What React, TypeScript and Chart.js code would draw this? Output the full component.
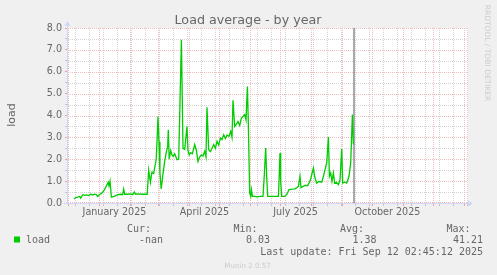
import { useEffect, useRef } from "react";
import { Chart, registerables } from "chart.js";

Chart.register(...registerables);

// x values are days counted from 1 December 2024
const loadDays = [
  6.2, 7.7, 9.7, 11.7, 12.7, 14.7, 16.7, 18.7, 20.7, 22.7, 24.7, 26.7, 28.2, 29.7, 31.7, 33.2, 34.7, 36.4, 37.7, 39.0,
  40.2, 41.0, 42.0, 43.4, 45.7, 48.0, 49.7, 52.7, 54.7, 55.7, 56.7, 59.7, 62.7, 64.7, 66.4, 67.7, 70.7, 73.7, 76.7, 79.2,
  80.7, 82.4, 84.0, 85.7, 88.2, 89.2, 90.0, 91.0, 91.9, 93.2, 95.2, 96.7, 98.2, 99.7, 100.3, 101.2, 102.7, 104.0, 105.2, 106.7,
  109.0, 110.7, 113.4, 115.0, 116.7, 119.0, 120.0, 121.2, 122.7, 124.4, 126.7, 128.4, 130.0, 131.7, 133.4, 135.0, 136.7, 138.0, 139.0, 140.7,
  142.4, 144.0, 145.7, 147.4, 149.0, 150.7, 152.4, 154.0, 155.7, 157.4, 159.0, 161.0, 162.7, 164.0, 165.0, 166.7, 168.4, 170.0, 171.7, 173.4,
  175.0, 176.7, 178.0, 179.4, 180.2, 181.7, 182.7, 183.4, 184.4, 186.7, 189.7, 191.7, 195.0, 196.2, 197.7, 198.7, 199.7, 203.7, 207.7, 210.4,
  211.2, 212.0, 212.7, 213.7, 216.7, 218.7, 221.0, 222.7, 224.7, 227.0, 228.7, 230.4, 232.0, 233.0, 234.7, 237.0, 239.7, 242.0, 243.7, 245.4,
  246.7, 248.7, 250.7, 253.7, 255.4, 257.0, 258.7, 260.4, 261.4, 262.7, 264.0, 265.4, 266.7, 268.4, 270.4, 272.0, 273.7, 274.7, 276.7, 278.7,
  281.0, 282.7, 284.4, 285.4,
];
const loadValues = [
  0.18, 0.25, 0.27, 0.3, 0.22, 0.38, 0.35, 0.37, 0.34, 0.41, 0.36, 0.4, 0.38, 0.3, 0.4, 0.43, 0.5, 0.6, 0.72, 0.84,
  0.95, 0.78, 1.0, 0.27, 0.3, 0.34, 0.38, 0.4, 0.38, 0.64, 0.4, 0.4, 0.42, 0.38, 0.5, 0.4, 0.42, 0.4, 0.41, 0.4,
  1.5, 0.95, 1.42, 1.35, 2.0, 3.0, 3.95, 2.8, 1.4, 0.64, 1.4, 1.9, 2.3, 2.6, 3.35, 2.0, 2.4, 2.2, 2.13, 2.25,
  1.98, 2.0, 7.46, 2.5, 2.45, 3.5, 2.4, 2.2, 2.3, 2.25, 2.67, 2.4, 1.9, 2.1, 2.2, 2.15, 2.36, 2.1, 4.38, 2.44,
  2.35, 2.5, 2.67, 2.5, 2.82, 2.65, 2.97, 2.9, 3.12, 2.95, 3.1, 3.05, 3.27, 3.0, 4.7, 3.5, 3.6, 3.73, 3.55, 3.88,
  3.95, 4.04, 3.8, 5.33, 3.9, 0.46, 0.3, 0.61, 0.3, 0.3, 0.28, 0.3, 0.3, 1.2, 2.51, 1.2, 0.3, 0.3, 0.3, 0.3,
  1.2, 2.29, 1.0, 0.3, 0.3, 0.38, 0.61, 0.62, 0.63, 0.65, 0.7, 0.76, 1.22, 0.7, 0.75, 0.8, 0.8, 0.99, 1.29, 1.6,
  1.2, 0.91, 0.98, 0.95, 1.22, 1.52, 1.83, 3.02, 1.22, 1.37, 0.99, 1.37, 0.91, 0.95, 0.84, 1.05, 2.47, 0.91, 0.95, 0.91,
  1.22, 1.83, 4.04, 2.67,
];
const markerDay = 286.0;

const monthStartDays = [0, 31, 62, 90, 121, 151, 182, 212, 243, 274, 304, 335, 365, 396];
const minorGridDays = [
  7, 21, 35, 49, 63, 77, 91, 105, 119, 133, 147, 161, 175, 189, 203, 217, 231, 245, 259, 273, 287, 301, 315, 329, 343, 357,
  371, 385, 399,
];
const xLabelDays = [46.5, 136.5, 227.5, 319.5];
const xLabelTexts = ["January 2025", "April 2025", "July 2025", "October 2025"];
const yTickValues = [0, 0.5, 1, 1.5, 2, 2.5, 3, 3.5, 4, 4.5, 5, 5.5, 6, 6.5, 7, 7.5, 8];

const titleText = "Load average - by year";
const yTitleText = "load";
const seriesName = "load";
const legendHeads = ["Cur:", "Min:", "Avg:", "Max:"];
const legendValues = ["-nan", "0.03", "1.38", "41.21"];
const lastUpdateText = "Last update: Fri Sep 12 02:45:12 2025";
const versionText = "Munin 2.0.57";
const watermarkText = "RRDTOOL / TOBI OETIKER";

const MAJOR = "#f1baba";
const MINOR = "#d3d3d3";
const MAJOR_TICK = "#eba0a0";
const MINOR_TICK = "#c4c4c4";
const AXIS = "#cfd6f8";
const TEXT = "#666666";
const GREEN = "#00cc00";

function tickKind(v: number): string {
  if (monthStartDays.includes(v)) return "major";
  if (minorGridDays.includes(v)) return "minor";
  return "label";
}

export default function App() {
  const ref = useRef<HTMLCanvasElement | null>(null);

  useEffect(() => {
    document.body.style.margin = "0";
    document.body.style.background = "#f0f0f0";
    const canvas = ref.current;
    if (!canvas) return;

    const decor = {
      id: "decor",
      beforeDraw(chart: any) {
        const { ctx, chartArea: a } = chart;
        ctx.save();
        ctx.fillStyle = "#f0f0f0";
        ctx.fillRect(0, 0, chart.width, chart.height);
        ctx.fillStyle = "#ffffff";
        ctx.fillRect(a.left, a.top, a.right - a.left, a.bottom - a.top);
        ctx.restore();
      },
      beforeDatasetsDraw(chart: any) {
        // dotted grid (1 on / 1 off), positioned by the chart's own scales
        const { ctx, chartArea: a, scales } = chart;
        const xs = scales.x;
        const ys = scales.y;
        const l = Math.round(a.left);
        const r = Math.round(a.right);
        const t = Math.round(a.top);
        const b = Math.round(a.bottom);
        ctx.save();
        for (const pass of ["minor", "major"]) {
          ctx.fillStyle = pass === "major" ? MAJOR : MINOR;
          for (const tk of ys.ticks) {
            const kind = Number.isInteger(tk.value) ? "major" : "minor";
            if (kind !== pass) continue;
            const py = Math.min(b - 1, Math.round(ys.getPixelForValue(tk.value)));
            for (let px = l; px < r; px += 2) ctx.fillRect(px, py, 1, 1);
          }
          for (const tk of xs.ticks) {
            if (tickKind(tk.value) !== pass) continue;
            const px = Math.round(xs.getPixelForValue(tk.value));
            for (let py = t; py < b; py += 2) ctx.fillRect(px, py, 1, 1);
          }
        }
        ctx.restore();
      },
      afterDraw(chart: any) {
        const { ctx, chartArea: a } = chart;
        ctx.save();
        // axes
        ctx.strokeStyle = AXIS;
        ctx.lineWidth = 1;
        ctx.beginPath();
        ctx.moveTo(a.left - 0.5, a.bottom + 0.5);
        ctx.lineTo(a.left - 0.5, a.top - 3);
        ctx.moveTo(a.left - 4, a.bottom + 0.5);
        ctx.lineTo(a.right + 2, a.bottom + 0.5);
        ctx.stroke();
        ctx.fillStyle = AXIS;
        ctx.beginPath();
        ctx.moveTo(a.left - 3.5, a.top - 2);
        ctx.lineTo(a.left + 2.5, a.top - 2);
        ctx.lineTo(a.left - 0.5, a.top - 7);
        ctx.closePath();
        ctx.fill();
        ctx.beginPath();
        ctx.moveTo(a.right, a.bottom - 2.5);
        ctx.lineTo(a.right, a.bottom + 3.5);
        ctx.lineTo(a.right + 5, a.bottom + 0.5);
        ctx.closePath();
        ctx.fill();

        // title
        ctx.fillStyle = TEXT;
        ctx.textAlign = "center";
        ctx.textBaseline = "alphabetic";
        ctx.font = "12.7px 'DejaVu Sans'";
        ctx.fillText(titleText, 248, 24);

        // y title
        ctx.save();
        ctx.translate(14.5, 115);
        ctx.rotate(-Math.PI / 2);
        ctx.font = "11px 'DejaVu Sans'";
        ctx.fillText(yTitleText, 0, 0);
        ctx.restore();

        // legend
        ctx.fillStyle = GREEN;
        ctx.fillRect(14, 236.5, 6, 6);
        ctx.fillStyle = TEXT;
        ctx.font = "10px 'DejaVu Sans Mono'";
        ctx.textAlign = "left";
        ctx.fillText(seriesName, 26, 242.5);
        const headRight = [151, 257.5, 364, 470.5];
        const valRight = [163, 270, 376.5, 483];
        ctx.textAlign = "right";
        for (let i = 0; i < legendHeads.length; i++) {
          ctx.fillText(legendHeads[i], headRight[i], 231.5);
          ctx.fillText(legendValues[i], valRight[i], 242.5);
        }
        ctx.fillText(lastUpdateText, 483, 254.5);

        // version
        ctx.fillStyle = "#cccccc";
        ctx.textAlign = "center";
        ctx.font = "7.1px 'DejaVu Sans'";
        ctx.fillText(versionText, 247.5, 268);

        // watermark
        ctx.save();
        ctx.translate(485, 53);
        ctx.rotate(Math.PI / 2);
        ctx.font = "7.5px 'DejaVu Sans'";
        ctx.fillText(watermarkText, 0, 0);
        ctx.restore();

        ctx.restore();
      },
    };

    const tickMarkColor = (c: any) => {
      const v = c.tick ? c.tick.value : 0;
      const k = tickKind(v);
      return k === "major" ? MAJOR_TICK : k === "minor" ? MINOR_TICK : "rgba(0,0,0,0)";
    };
    const yTickMarkColor = (c: any) => {
      const v = c.tick ? c.tick.value : 0;
      return Number.isInteger(v) ? MAJOR_TICK : MINOR_TICK;
    };

    const chart = new Chart(canvas, {
      type: "line",
      data: {
        datasets: [
          {
            label: seriesName,
            data: loadDays.map((d, i) => ({ x: d, y: loadValues[i] })),
            borderColor: GREEN,
            borderWidth: 1.3,
            pointRadius: 0,
            tension: 0,
            fill: false,
          },
          {
            label: "marker",
            data: [
              { x: markerDay, y: 0 },
              { x: markerDay, y: 8 },
            ],
            borderColor: "#8c8c8c",
            borderWidth: 1.5,
            pointRadius: 0,
            fill: false,
          },
        ],
      },
      options: {
        animation: false,
        responsive: false,
        devicePixelRatio: 1,
        events: [],
        layout: { padding: { top: 28, left: 0, right: 29, bottom: 50 } },
        plugins: {
          legend: { display: false },
          title: { display: false },
          tooltip: { enabled: false },
        },
        scales: {
          x: {
            type: "linear",
            min: 0,
            max: 400,
            afterFit: (s: any) => {
              s.height = 22;
            },
            afterBuildTicks: (s: any) => {
              const vals = [...monthStartDays, ...minorGridDays, ...xLabelDays].sort((p, q) => p - q);
              s.ticks = vals.map((v) => ({ value: v }));
            },
            border: { display: false },
            grid: {
              drawOnChartArea: false,
              color: tickMarkColor,
              tickColor: tickMarkColor,
              tickLength: 3,
              lineWidth: 1,
            },
            ticks: {
              autoSkip: false,
              maxRotation: 0,
              minRotation: 0,
              padding: 1,
              color: TEXT,
              font: { family: "'DejaVu Sans'", size: 9.6 },
              callback: (v: any) => {
                const i = xLabelDays.indexOf(Number(v));
                return i >= 0 ? xLabelTexts[i] : "";
              },
            },
          },
          y: {
            type: "linear",
            min: 0,
            max: 8,
            afterFit: (s: any) => {
              s.width = 68;
            },
            afterBuildTicks: (s: any) => {
              s.ticks = yTickValues.map((v) => ({ value: v }));
            },
            border: { display: false },
            grid: {
              drawOnChartArea: false,
              color: yTickMarkColor,
              tickColor: yTickMarkColor,
              tickLength: 3,
              lineWidth: 1,
            },
            ticks: {
              autoSkip: false,
              padding: 3,
              color: TEXT,
              font: { family: "'DejaVu Sans'", size: 9.6 },
              callback: (v: any) => (Number.isInteger(Number(v)) ? Number(v).toFixed(1) : ""),
            },
          },
        },
      },
      plugins: [decor],
    } as any);

    return () => chart.destroy();
  }, []);

  return <canvas ref={ref} width={497} height={275} style={{ display: "block", width: 497, height: 275 }} />;
}
